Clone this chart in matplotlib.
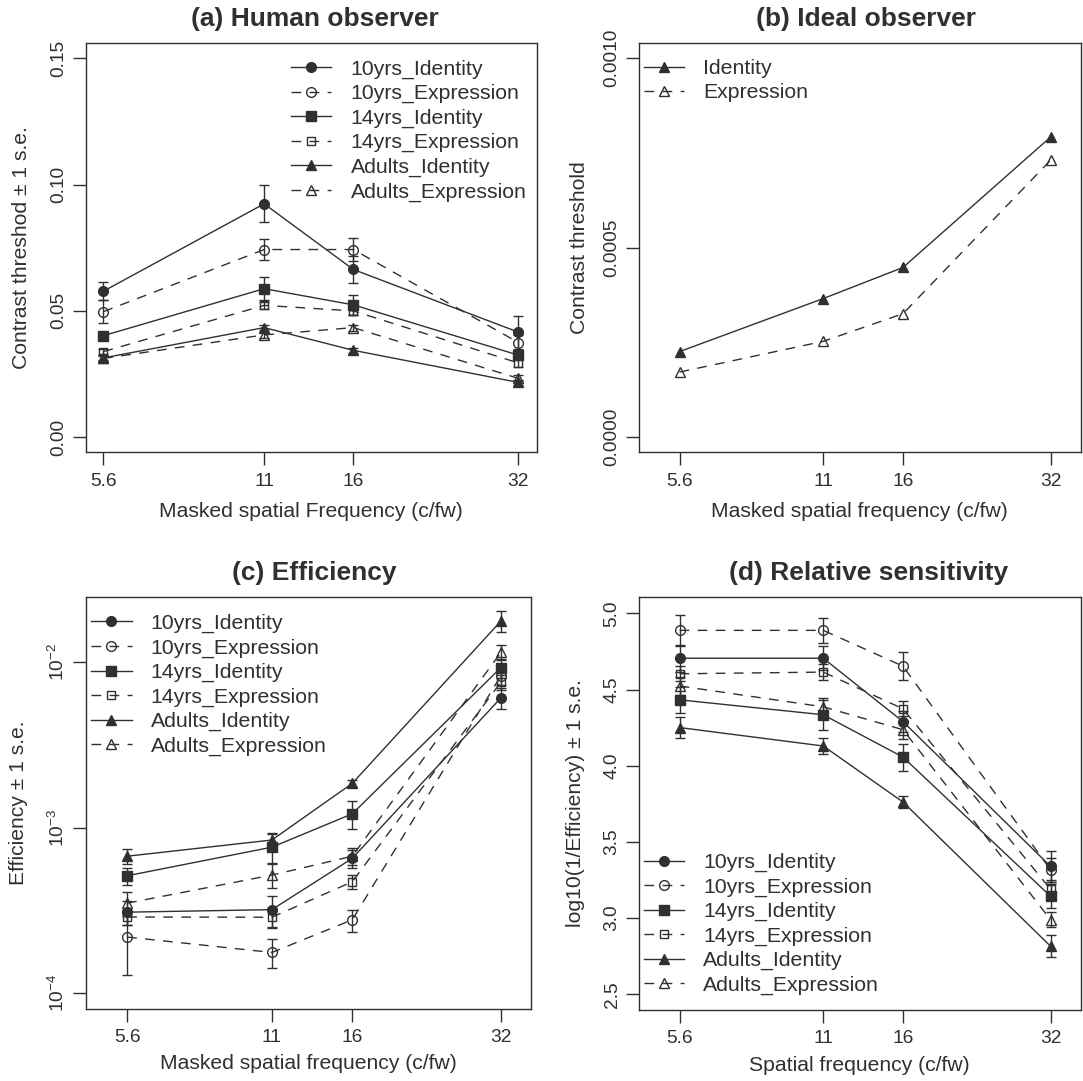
import matplotlib
matplotlib.use("Agg")
import matplotlib.pyplot as plt
from matplotlib.ticker import NullLocator

plt.rcParams['font.family'] = ['Liberation Sans', 'DejaVu Sans']
plt.rcParams['mathtext.default'] = 'regular'

INK = '#303030'

# spatial frequencies (c/fw)
freq = [5.6, 11, 16, 32]
freq_labels = ['5.6', '11', '16', '32']

groups = ['10yrs_Identity', '10yrs_Expression', '14yrs_Identity',
          '14yrs_Expression', 'Adults_Identity', 'Adults_Expression']

# (a) human contrast thresholds and s.e.
human_thr = {
    '10yrs_Identity': [0.0578, 0.0924, 0.0664, 0.0416],
    '10yrs_Expression': [0.0497, 0.0743, 0.0743, 0.0375],
    '14yrs_Identity': [0.0402, 0.0588, 0.0524, 0.0325],
    '14yrs_Expression': [0.0339, 0.0522, 0.0500, 0.0294],
    'Adults_Identity': [0.0314, 0.0434, 0.0344, 0.0217],
    'Adults_Expression': [0.0312, 0.0405, 0.0434, 0.0233],
}
human_se = {
    '10yrs_Identity': [0.0035, 0.0073, 0.0055, 0.0065],
    '10yrs_Expression': [0.0046, 0.0040, 0.0047, 0.0030],
    '14yrs_Identity': [0.0010, 0.0046, 0.0039, 0.0020],
    '14yrs_Expression': [0.0010, 0.0015, 0.0015, 0.0015],
    'Adults_Identity': [0.0010, 0.0010, 0.0010, 0.0010],
    'Adults_Expression': [0.0010, 0.0012, 0.0012, 0.0012],
}

# (b) ideal observer thresholds
ideal_identity = [0.000226, 0.000366, 0.000448, 0.000792]
ideal_expression = [0.000172, 0.000253, 0.000326, 0.000731]

# (c) efficiency and s.e.
eff = {
    '10yrs_Identity': [3.07e-4, 3.18e-4, 6.5e-4, 6.1e-3],
    '10yrs_Expression': [2.17e-4, 1.75e-4, 2.76e-4, 8.3e-3],
    '14yrs_Identity': [5.1e-4, 7.6e-4, 1.21e-3, 9.3e-3],
    '14yrs_Expression': [2.87e-4, 2.86e-4, 4.69e-4, 7.6e-3],
    'Adults_Identity': [6.7e-4, 8.4e-4, 1.85e-3, 1.78e-2],
    'Adults_Expression': [3.48e-4, 5.15e-4, 6.7e-4, 1.15e-2],
}
eff_se = {
    '10yrs_Identity': [0.5e-4, 0.68e-4, 0.8e-4, 0.9e-3],
    '10yrs_Expression': [0.89e-4, 0.35e-4, 0.42e-4, 1.0e-3],
    '14yrs_Identity': [0.6e-4, 1.5e-4, 2.3e-4, 1.2e-3],
    '14yrs_Expression': [0.3e-4, 0.4e-4, 0.45e-4, 0.8e-3],
    'Adults_Identity': [0.7e-4, 0.8e-4, 1.0e-4, 2.6e-3],
    'Adults_Expression': [0.57e-4, 0.87e-4, 0.8e-4, 1.2e-3],
}

# (d) relative sensitivity and s.e.
rel = {
    '10yrs_Identity': [4.706, 4.706, 4.290, 3.340],
    '10yrs_Expression': [4.889, 4.889, 4.654, 3.318],
    '14yrs_Identity': [4.433, 4.335, 4.057, 3.144],
    '14yrs_Expression': [4.604, 4.615, 4.374, 3.190],
    'Adults_Identity': [4.251, 4.130, 3.762, 2.816],
    'Adults_Expression': [4.524, 4.387, 4.237, 2.990],
}
rel_se = {
    '10yrs_Identity': [0.09, 0.08, 0.07, 0.10],
    '10yrs_Expression': [0.10, 0.084, 0.091, 0.08],
    '14yrs_Identity': [0.086, 0.10, 0.089, 0.08],
    '14yrs_Expression': [0.05, 0.05, 0.05, 0.06],
    'Adults_Identity': [0.068, 0.051, 0.04, 0.072],
    'Adults_Expression': [0.06, 0.061, 0.06, 0.05],
}


def style(name):
    if name.startswith('10yrs'):
        m, ms = 'o', 7
    elif name.startswith('14yrs'):
        m, ms = 's', 7
    else:
        m, ms = '^', 7.5
    if name.endswith('Identity'):
        return dict(marker=m, ms=ms, mfc=INK, mec=INK, ls='-')
    if m == 's':
        ms = 6
    return dict(marker=m, ms=ms, mfc='none', mec=INK, mew=1, ls='--', dashes=(7, 6))


def setup(ax, title, tx, xlabel, ylabel, xlab_y, ylab_x, xlim):
    ax.set_xscale('log')
    ax.set_xlim(*xlim)
    ax.set_xticks(freq)
    ax.set_xticklabels(freq_labels)
    ax.xaxis.set_minor_locator(NullLocator())
    ax.tick_params(direction='out', length=9.5, width=1, labelsize=13.8,
                   colors=INK, labelcolor=INK)
    ax.tick_params(axis='x', pad=5)
    ax.tick_params(axis='y', labelrotation=90, pad=3.5)
    for lab in ax.get_yticklabels():
        lab.set_va('center')
    for sp in ax.spines.values():
        sp.set_color(INK)
        sp.set_linewidth(1)
    ax.text(tx, 1.059, title, transform=ax.transAxes, ha='center', va='center',
            fontsize=19, fontweight='bold', color=INK)
    ax.set_xlabel(xlabel, fontsize=15.2, color=INK)
    ax.set_ylabel(ylabel, fontsize=15.2, color=INK)
    ax.xaxis.set_label_coords(0.5, xlab_y)
    ax.yaxis.set_label_coords(ylab_x, 0.5)


def draw_groups(ax, vals, ses):
    for g in groups:
        ax.errorbar(freq, vals[g], yerr=ses[g], fmt='none', ecolor=INK,
                    elinewidth=1, capsize=3.5, capthick=1)
        ax.plot(freq, vals[g], color=INK, lw=1, label=g, **style(g))


def legend(ax, loc, anchor):
    ax.legend(loc=loc, bbox_to_anchor=anchor, frameon=False, fontsize=15.3,
              handlelength=1.9, handletextpad=0.9, labelspacing=0.25,
              borderpad=0, borderaxespad=0, labelcolor=INK)


def main():
    fig = plt.figure(figsize=(10.83, 10.81), dpi=100)

    # (a)
    ax = fig.add_axes([0.0792, 0.5815, 0.4166, 0.3786])
    draw_groups(ax, human_thr, human_se)
    ax.set_ylim(-0.006, 0.156)
    ax.set_yticks([0.0, 0.05, 0.10, 0.15])
    ax.set_yticklabels(['0.00', '0.05', '0.10', '0.15'])
    setup(ax, '(a) Human observer', 0.508, 'Masked spatial Frequency (c/fw)',
          'Contrast threshod \u00b1 1 s.e.', -0.122, -0.122, (5.2, 34.6))
    legend(ax, 'upper left', (0.455, 0.960))

    # (b)
    ax = fig.add_axes([0.5897, 0.5815, 0.4083, 0.3786])
    ax.plot(freq, ideal_identity, color=INK, lw=1, label='Identity',
            **style('Adults_Identity'))
    ax.plot(freq, ideal_expression, color=INK, lw=1, label='Expression',
            **style('Adults_Expression'))
    ax.set_ylim(-0.00004, 0.00104)
    ax.set_yticks([0.0, 0.0005, 0.0010])
    ax.set_yticklabels(['0.0000', '0.0005', '0.0010'])
    setup(ax, '(b) Ideal observer', 0.515, 'Masked spatial frequency (c/fw)',
          'Contrast threshold', -0.122, -0.113, (4.62, 36.9))
    legend(ax, 'upper left', (0.012, 0.961))

    # (c)
    ax = fig.add_axes([0.0793, 0.0670, 0.4114, 0.3807])
    draw_groups(ax, eff, eff_se)
    ax.set_yscale('log')
    ax.set_ylim(8.0e-5, 0.0249)
    ax.set_yticks([1e-4, 1e-3, 1e-2])
    ax.set_yticklabels(['$10^{-4}$', '$10^{-3}$', '$10^{-2}$'])
    ax.yaxis.set_minor_locator(NullLocator())
    setup(ax, '(c) Efficiency', 0.512, 'Masked spatial frequency (c/fw)',
          'Efficiency \u00b1 1 s.e.', -0.111, -0.131, (4.62, 36.9))
    legend(ax, 'upper left', (0.012, 0.959))

    # (d)
    ax = fig.add_axes([0.5897, 0.0658, 0.4083, 0.3818])
    draw_groups(ax, rel, rel_se)
    ax.set_ylim(2.398, 5.107)
    ax.set_yticks([2.5, 3.0, 3.5, 4.0, 4.5, 5.0])
    ax.set_yticklabels(['2.5', '3.0', '3.5', '4.0', '4.5', '5.0'])
    setup(ax, '(d) Relative sensitivity', 0.52, 'Spatial frequency (c/fw)',
          'log10(1/Efficiency) \u00b1 1 s.e.', -0.112, -0.121, (4.62, 36.9))
    legend(ax, 'lower left', (0.012, 0.036))

    fig.savefig('out.png', dpi=100)


if __name__ == "__main__":
    main()
